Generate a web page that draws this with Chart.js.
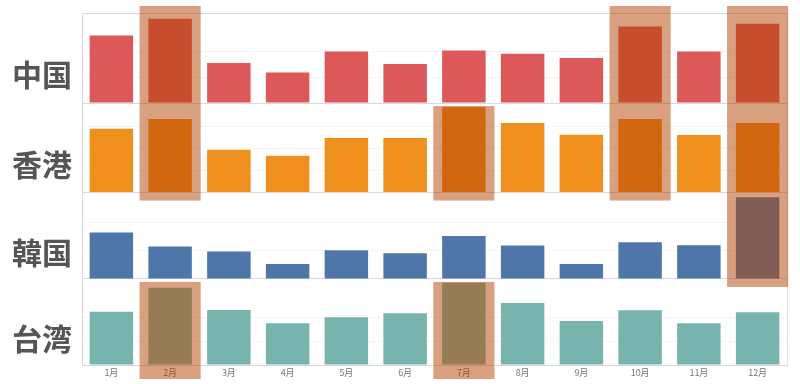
<!DOCTYPE html>
<html>
<head>
<meta charset="utf-8">
<script src="https://cdn.jsdelivr.net/npm/chart.js@4/dist/chart.umd.min.js"></script>
<style>
  html, body { margin: 0; padding: 0; background: #ffffff; }
  #wrap { width: 800px; height: 384px; }
</style>
</head>
<body>
<div id="wrap"><canvas id="c" width="800" height="384"></canvas></div>
<script>
// ---- data ----
const months = ['1月','2月','3月','4月','5月','6月','7月','8月','9月','10月','11月','12月'];
const regions = ['中国','香港','韓国','台湾'];
const chinaValues  = [67.6, 84.3, 40.0, 30.6, 51.6, 39.0, 52.6, 49.3, 45.0, 76.6, 51.6, 79.3];
const hongkongValues = [63.7, 73.4, 42.7, 36.7, 54.4, 54.4, 85.4, 69.4, 57.7, 73.4, 57.4, 69.4];
const koreaValues  = [46.3, 32.3, 27.3, 15.0, 28.7, 25.7, 43.0, 33.3, 15.0, 36.7, 33.7, 81.7];
const taiwanValues = [53.3, 77.3, 55.0, 41.7, 47.7, 51.7, 82.3, 62.0, 44.0, 54.7, 41.7, 52.7];
const panelMax = [90, 89.4, 86.3, 86];
const gridStep = [26, 22, 28, 23.5];
// highlighted months: month, first row, last row
const highlightMonth = ['2月','2月','7月','7月','10月','12月'];
const highlightFrom  = ['中国','台湾','香港','台湾','中国','中国'];
const highlightTo    = ['香港','台湾','香港','台湾','香港','韓国'];

const seriesValues = [chinaValues, hongkongValues, koreaValues, taiwanValues];
const colors = ['#dd5858', '#ef8f1e', '#4e76a8', '#78b4ae'];
const axisIds = ['y0','y1','y2','y3'];

const datasets = regions.map((r, i) => ({
  label: r,
  data: seriesValues[i],
  yAxisID: axisIds[i],
  backgroundColor: colors[i],
  borderWidth: 0,
  grouped: false,
  barPercentage: 0.74,
  categoryPercentage: 1.0
}));

const scales = {
  x: {
    type: 'category',
    labels: months,
    grid: { display: false, drawTicks: false },
    border: { display: true, color: '#d9d9d9' },
    ticks: { color: '#777', font: { family: '"Noto Sans CJK JP", "Noto Sans", sans-serif', size: 9 }, padding: 2, maxRotation: 0 },
    afterFit: s => { s.height = 19; }
  }
};
regions.forEach((r, i) => {
  scales[axisIds[i]] = {
    type: 'linear',
    position: 'left',
    stack: 'panels',
    stackWeight: panelMax[i],
    weight: 10 - i,
    min: 0,
    max: panelMax[i],
    offset: false,
    ticks: { display: false, stepSize: gridStep[i] },
    grid: {
      drawTicks: false,
      color: ctx => (ctx.tick && (ctx.tick.value === 0 || ctx.tick.value === panelMax[i])) ? '#d9d9d9' : '#f5f5f5',
      lineWidth: 1
    },
    border: { display: true, color: '#d9d9d9' },
    afterFit: s => { s.width = 0; }
  };
});

const framePlugin = {
  id: 'frame',
  beforeDatasetsDraw(chart) {
    const { ctx, chartArea: a } = chart;
    ctx.save();
    ctx.strokeStyle = '#e3e3e3';
    ctx.lineWidth = 1;
    ctx.beginPath();
    ctx.moveTo(Math.round(a.right) + 0.5, a.top);
    ctx.lineTo(Math.round(a.right) + 0.5, a.bottom);
    ctx.stroke();
    ctx.restore();
  }
};

const overlayPlugin = {
  id: 'overlay',
  afterDraw(chart) {
    const { ctx, chartArea: a } = chart;
    const xs = chart.scales.x;
    const catW = (a.right - a.left) / months.length;
    // row labels
    ctx.save();
    ctx.fillStyle = '#555555';
    ctx.font = 'bold 30px "Noto Sans CJK JP", "Noto Sans CJK SC", sans-serif';
    ctx.textAlign = 'center';
    ctx.textBaseline = 'middle';
    regions.forEach((r, i) => {
      const s = chart.scales[axisIds[i]];
      ctx.fillText(r, 42, (s.top + s.bottom) / 2 + 17);
    });
    ctx.restore();
    // highlight boxes
    ctx.save();
    ctx.fillStyle = 'rgba(179, 65, 0, 0.5)';
    highlightMonth.forEach((m, k) => {
      const fi = regions.indexOf(highlightFrom[k]);
      const ti = regions.indexOf(highlightTo[k]);
      const sTop = chart.scales[axisIds[fi]];
      const sBot = chart.scales[axisIds[ti]];
      const cx = xs.getPixelForValue(months.indexOf(m));
      const w = catW * 1.04;
      const top = fi === 0 ? sTop.top - 7 : sTop.top + 3;
      const bottom = ti === regions.length - 1 ? sBot.bottom + 14 : sBot.bottom + 8;
      ctx.fillRect(cx - w / 2, top, w, bottom - top);
    });
    ctx.restore();
  }
};

new Chart(document.getElementById('c'), {
  type: 'bar',
  data: { labels: months, datasets },
  options: {
    responsive: false,
    animation: false,
    layout: { padding: { left: 82, right: 13, top: 13, bottom: 0 } },
    plugins: { legend: { display: false }, tooltip: { enabled: false } },
    scales
  },
  plugins: [framePlugin, overlayPlugin]
});
</script>
</body>
</html>
